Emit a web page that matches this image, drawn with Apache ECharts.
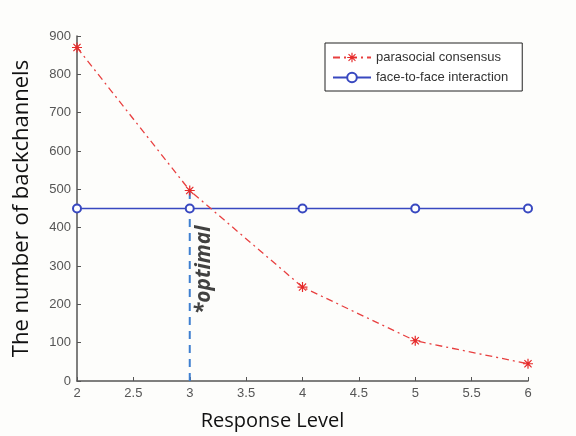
<!DOCTYPE html>
<html>
<head>
<meta charset="utf-8">
<script src="https://cdn.jsdelivr.net/npm/echarts@6/dist/echarts.min.js"></script>
<style>html,body{margin:0;padding:0;background:#fdfdfb;}#main{width:576px;height:436px;}</style>
</head>
<body>
<div id="main"></div>
<script>
var levels=[2,3,4,5,6];
var parasocial=[870,497,245,105,45];
var faceToFace=[450,450,450,450,450];
var optimalLevel=3;
var optimalLabel=[3.13,290];

var mychart=echarts.init(document.getElementById('main'));
function pairs(xs,ys){
	var out=[];
	for(var i=0;i<xs.length;i++){out.push([xs[i],ys[i]]);}
	return out;
}
var axisCol='#555';
// asterisk marker: plus with thin diagonals
var star='path://M4.4,0 L5.6,0 L5.6,3.6 L8.2,1 L9,1.8 L6.4,4.4 L10,4.4 L10,5.6 L6.4,5.6 L9,8.2 L8.2,9 L5.6,6.4 L5.6,10 L4.4,10 L4.4,6.4 L1.8,9 L1,8.2 L3.6,5.6 L0,5.6 L0,4.4 L3.6,4.4 L1,1.8 L1.8,1 L4.4,3.6 Z';
var option={
	backgroundColor:'#fdfdfb',
	animation:false,
	grid:{left:77,right:48,top:36,bottom:43},
	legend:{
		data:['parasocial consensus','face-to-face interaction'],
		orient:'vertical',
		left:325,top:43,
		padding:[8,14,7,7],
		itemGap:7,itemWidth:38,itemHeight:12,
		borderColor:'#222',borderWidth:1,
		backgroundColor:'#fff',
		textStyle:{fontSize:13,color:'#333',fontFamily:'Liberation Sans'}
	},
	xAxis:{
		type:'value',min:2,max:6,interval:0.5,
		name:'Response Level',nameLocation:'middle',nameGap:30,
		nameTextStyle:{fontSize:20,color:'#111',fontFamily:'Open Sans',padding:[0,60,0,0]},
		axisLine:{lineStyle:{color:axisCol,width:1.5}},
		axisTick:{inside:true,length:4,lineStyle:{color:axisCol}},
		axisLabel:{fontSize:13,color:'#555',margin:6},
		splitLine:{show:false}
	},
	yAxis:{
		type:'value',min:0,max:900,interval:100,
		name:'The number of backchannels',nameLocation:'middle',nameGap:44,
		nameTextStyle:{fontSize:22,color:'#111',fontFamily:'Open Sans'},
		axisLine:{show:true,lineStyle:{color:axisCol,width:1.5}},
		axisTick:{show:true,inside:true,length:4,lineStyle:{color:axisCol}},
		axisLabel:{fontSize:13,color:'#555',margin:6},
		splitLine:{show:false}
	},
	series:[{
		name:'optimal',
		type:'line',
		data:[[optimalLevel,0],[optimalLevel,parasocial[1]]],
		symbol:'none',
		lineStyle:{color:'#3f7fd0',width:2,type:[8,6]},
		z:1
	},{
		name:'parasocial consensus',
		type:'line',
		data:pairs(levels,parasocial),
		symbol:star,
		symbolSize:10,
		itemStyle:{color:'#e62a2a'},
		lineStyle:{color:'#e84040',width:1.3,type:[7,4,2,4]},
		z:3
	},{
		name:'face-to-face interaction',
		type:'line',
		data:pairs(levels,faceToFace),
		symbol:'emptyCircle',symbolSize:8,
		itemStyle:{color:'#3848c0',borderWidth:1.3},
		lineStyle:{color:'#3848c0',width:1.3},
		z:2
	},{
		name:'label',
		type:'scatter',
		data:[optimalLabel],
		symbolSize:0,
		label:{show:true,formatter:'*optimal',rotate:90,position:'inside',
			fontSize:21,fontStyle:'italic',fontWeight:'bold',color:'#111',fontFamily:'Open Sans'},
		z:4
	}]
};
mychart.setOption(option);
</script>
</body>
</html>
